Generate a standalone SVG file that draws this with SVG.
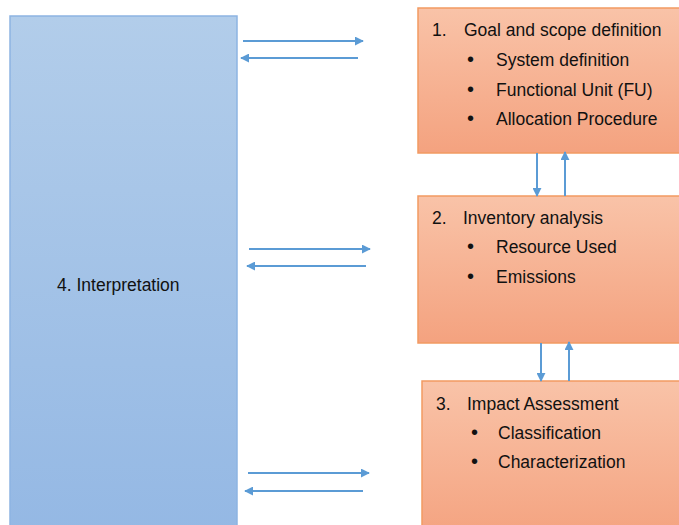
<svg xmlns="http://www.w3.org/2000/svg" width="679" height="525" viewBox="0 0 679 525">
<defs>
<linearGradient id="gBlue" x1="0" y1="0" x2="0" y2="1"><stop offset="0" stop-color="#b2cdea"/><stop offset="1" stop-color="#94b8e4"/></linearGradient>
<linearGradient id="gOrange" x1="0" y1="0" x2="0" y2="1"><stop offset="0" stop-color="#f9c3a8"/><stop offset="1" stop-color="#f4a27f"/></linearGradient>
<marker id="ah" viewBox="0 0 10 10" refX="9" refY="5" markerWidth="4.5" markerHeight="4.5" orient="auto-start-reverse"><path d="M0,0 L10,5 L0,10 z" fill="#5b9bd5"/></marker>
<style>
.box{fill:url(#gOrange);stroke:#f29a62;stroke-width:1.5}
.blue{fill:url(#gBlue);stroke:#8db4e2;stroke-width:1.5}
.t{font-family:"Liberation Sans",Arial,sans-serif;font-size:17.5px;fill:#111111}
.b{font-family:"Liberation Sans",Arial,sans-serif;font-size:20px;fill:#111111}
.c{stroke:#5b9bd5;stroke-width:2;fill:none;marker-end:url(#ah)}
</style>
</defs>
<rect width="679" height="525" fill="#ffffff"/>
<g id="node4"><rect class="blue" x="10" y="16" width="227" height="520"/><text class="t" x="57" y="291">4. Interpretation</text></g>
<g id="node1"><rect class="box" x="418" y="8" width="270" height="145"/>
<text class="t" x="432" y="36">1.</text><text class="t" x="464" y="36">Goal and scope definition</text>
<text class="b" x="467" y="66">•</text><text class="t" x="496" y="66">System definition</text>
<text class="b" x="467" y="96">•</text><text class="t" x="496" y="96">Functional Unit (FU)</text>
<text class="b" x="467" y="125">•</text><text class="t" x="496" y="125">Allocation Procedure</text></g>
<g id="node2"><rect class="box" x="418" y="196" width="270" height="147"/>
<text class="t" x="432" y="224">2.</text><text class="t" x="463" y="224">Inventory analysis</text>
<text class="b" x="467" y="253">•</text><text class="t" x="496" y="253">Resource Used</text>
<text class="b" x="467" y="283">•</text><text class="t" x="496" y="283">Emissions</text></g>
<g id="node3"><rect class="box" x="422" y="381" width="270" height="160"/>
<text class="t" x="436" y="410">3.</text><text class="t" x="467" y="410">Impact Assessment</text>
<text class="b" x="471" y="439">•</text><text class="t" x="498" y="439">Classification</text>
<text class="b" x="471" y="468">•</text><text class="t" x="498" y="468">Characterization</text></g>
<g id="connectors">
<line class="c" x1="243" y1="41" x2="363" y2="41"/>
<line class="c" x1="358" y1="58" x2="241" y2="58"/>
<line class="c" x1="249" y1="249" x2="370" y2="249"/>
<line class="c" x1="366" y1="266" x2="247" y2="266"/>
<line class="c" x1="248" y1="473" x2="369" y2="473"/>
<line class="c" x1="363" y1="491" x2="245" y2="491"/>
<line class="c" x1="537" y1="153" x2="537" y2="196"/>
<line class="c" x1="565" y1="196" x2="565" y2="152"/>
<line class="c" x1="541" y1="343" x2="541" y2="381"/>
<line class="c" x1="569" y1="381" x2="569" y2="342"/>
</g>
</svg>
